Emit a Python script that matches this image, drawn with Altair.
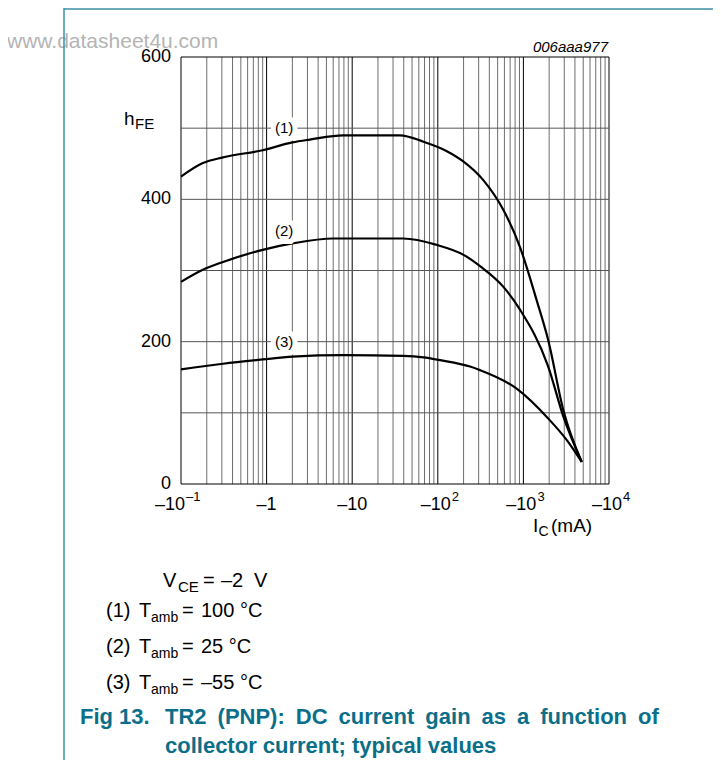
import altair as alt
import pandas as pd

# ---- data ----
ic_1 = [0.1, 0.18, 0.31, 0.9, 2.0, 3.2, 7.9, 36, 68, 126, 200, 340, 584, 912, 1430, 1950, 2925, 4800]
hfe_1 = [432, 451, 459, 469, 480, 484, 490, 490, 481, 468, 453, 427, 385, 333, 258, 202, 104, 31]

ic_2 = [0.1, 0.18, 0.31, 0.9, 2.0, 6.0, 39.5, 97, 200, 320, 584, 912, 1950, 2925, 4800]
hfe_2 = [284, 301, 312, 329, 338, 345, 345, 336, 322, 305, 277, 245, 165, 95, 31]

ic_3 = [0.1, 0.31, 0.9, 2.0, 7.9, 39.5, 68, 106, 238, 311, 835, 1950, 3200, 4800]
hfe_3 = [161, 169, 175, 179, 181, 180, 178, 174, 165, 160, 134, 92, 62, 31]

series_names = ["(1)", "(2)", "(3)"]
label_ic = [1.6, 1.6, 1.6]
label_hfe = [500, 355, 200]
temps = ["100 \u00b0C", "25 \u00b0C", "\u201355 \u00b0C"]

decades = [0.1, 1, 10, 100, 1000]
multipliers = [1, 2, 3, 4, 5, 6, 7, 8, 9]
x_max = 10000
y_grid_values = [100, 200, 300, 400, 500]
y_tick_values = [0, 200, 400, 600]
x_plain_ticks = [1, 10]
x_plain_labels = ["\u20131", "\u201310"]
x_exp_ticks = [100, 1000, 10000]
x_exp_labels = ["2", "3", "4"]

# ---- build tables ----
rows = []
for name, xs_, ys_ in zip(series_names, [ic_1, ic_2, ic_3], [hfe_1, hfe_2, hfe_3]):
    for a, b in zip(xs_, ys_):
        rows.append({"series": name, "ic": a, "hfe": b})
curves = pd.DataFrame(rows)

labels_df = pd.DataFrame({"name": series_names, "ic": label_ic, "hfe": label_hfe})

minor_vals = [d * m for d in decades for m in multipliers if m != 1]
major_vals = decades + [x_max]
vminor = pd.DataFrame({"v": minor_vals})
vmajor = pd.DataFrame({"v": major_vals})
hgrid = pd.DataFrame({"v": y_grid_values})
hborder = pd.DataFrame({"v": [0, 600]})
yticks = pd.DataFrame({"v": y_tick_values, "t": [str(v) for v in y_tick_values]})
xplain = pd.DataFrame({"v": x_plain_ticks, "t": x_plain_labels})
xexp = pd.DataFrame({"v": x_exp_ticks, "t": x_exp_labels})
xfirst = pd.DataFrame({"v": [0.1]})

W, H = 428, 427
FONT = "Liberation Sans"
TEAL = "#3a8fa5"
TITLE = "#0b6f89"

xs = alt.Scale(type="log", domain=[0.1, 10000], nice=False)
ys = alt.Scale(domain=[0, 600], nice=False, zero=True)
one = pd.DataFrame({"a": [0]})


def X(field="v"):
    return alt.X(f"{field}:Q", scale=xs, axis=None)


def Y(field="v"):
    return alt.Y(f"{field}:Q", scale=ys, axis=None)


def txt(s, x, y, size=18, color="black", align="left", baseline="alphabetic", **kw):
    return alt.Chart(one).mark_text(
        text=s, font=FONT, fontSize=size, color=color, align=align, baseline=baseline, **kw
    ).encode(x=alt.value(x), y=alt.value(y))


layers = []
# vertical grid
layers.append(alt.Chart(vminor).mark_rule(color="#6e6e6e", strokeWidth=1).encode(
    x=X(), y=alt.value(0), y2=alt.value(H)))
layers.append(alt.Chart(vmajor).mark_rule(color="black", strokeWidth=1).encode(
    x=X(), y=alt.value(0), y2=alt.value(H)))
# horizontal grid
layers.append(alt.Chart(hgrid).mark_rule(color="#555555", strokeWidth=1).encode(
    y=Y(), x=alt.value(0), x2=alt.value(W)))
layers.append(alt.Chart(hborder).mark_rule(color="black", strokeWidth=1).encode(
    y=Y(), x=alt.value(0), x2=alt.value(W)))
# curves
layers.append(alt.Chart(curves).mark_line(color="black", strokeWidth=2.2, interpolate="monotone").encode(
    x=X("ic"), y=Y("hfe"), detail="series:N"))
# curve labels with white halo
layers.append(alt.Chart(labels_df).mark_text(font=FONT, fontSize=15, stroke="white", strokeWidth=10,
                                             color="white", baseline="middle").encode(
    x=X("ic"), y=Y("hfe"), text="name:N"))
layers.append(alt.Chart(labels_df).mark_text(font=FONT, fontSize=15, color="black", baseline="middle").encode(
    x=X("ic"), y=Y("hfe"), text="name:N"))

# y tick labels
layers.append(alt.Chart(yticks).mark_text(font=FONT, fontSize=18, align="right", baseline="middle").encode(
    y=Y(), x=alt.value(-10), text="t:N"))
# x tick labels
layers.append(alt.Chart(xplain).mark_text(font=FONT, fontSize=18, align="center", baseline="alphabetic").encode(
    x=X(), y=alt.value(453), text="t:N"))
layers.append(alt.Chart(xexp).mark_text(font=FONT, fontSize=18, align="right", baseline="alphabetic", dx=13,
                                        text="\u201310").encode(x=X(), y=alt.value(453)))
layers.append(alt.Chart(xexp).mark_text(font=FONT, fontSize=13, align="left", baseline="alphabetic", dx=14).encode(
    x=X(), y=alt.value(444), text="t:N"))
layers.append(alt.Chart(xfirst).mark_text(font=FONT, fontSize=18, align="right", baseline="alphabetic", dx=4,
                                          text="\u201310").encode(x=X(), y=alt.value(453)))
layers.append(alt.Chart(xfirst).mark_text(font=FONT, fontSize=13, align="left", baseline="alphabetic", dx=5,
                                          text="\u20131").encode(x=X(), y=alt.value(444)))

# axis titles
layers += [
    txt("h", -57, 68, 19), txt("FE", -46, 72, 15),
    txt("I", 352, 475, 19), txt("C", 357.5, 479, 14), txt("(mA)", 370, 475, 19),
]
# header texts
layers += [
    txt("www.datasheet4u.com", -174, -9, 21, color="#b4b4b4"),
    txt("006aaa977", 427, -5, 15, align="right", fontStyle="italic"),
]
# frame
layers.append(alt.Chart(one).mark_rule(color=TEAL, strokeWidth=1.5).encode(
    x=alt.value(-117), y=alt.value(-49), y2=alt.value(703)))
layers.append(alt.Chart(one).mark_rule(color=TEAL, strokeWidth=1.5).encode(
    x=alt.value(-117), x2=alt.value(532), y=alt.value(-48)))

# conditions / legend
layers += [
    txt("V", -18, 530, 20), txt("CE", -3, 535, 15), txt("=", 22, 530, 20),
    txt("\u20132", 40, 530, 20), txt("V", 73, 530, 20),
]
for i, (n, t) in enumerate(zip(series_names, temps)):
    yb = 560 + 36 * i
    layers += [
        txt(n, -75, yb, 20), txt("T", -42, yb, 20), txt("amb", -30, yb + 5, 14),
        txt("=", 1, yb, 20), txt(t, 20, yb, 20),
    ]
# caption
line1 = "TR2 (PNP): DC current gain as a function of".replace(" ", "\u2002")
layers += [
    txt("Fig 13.", -101, 667, 22, color=TITLE, fontWeight="bold"),
    txt(line1, -16, 667, 22, color=TITLE, fontWeight="bold"),
    txt("collector current; typical values", -16, 696, 22, color=TITLE, fontWeight="bold"),
]

chart = alt.layer(*layers).properties(
    width=W, height=H,
    autosize=alt.AutoSizeParams(type="none"),
    padding={"left": 173, "top": 49, "right": 104, "bottom": 276},
).configure_view(stroke=None)

chart.save("out.html", embed_options={"renderer": "svg", "actions": False})
